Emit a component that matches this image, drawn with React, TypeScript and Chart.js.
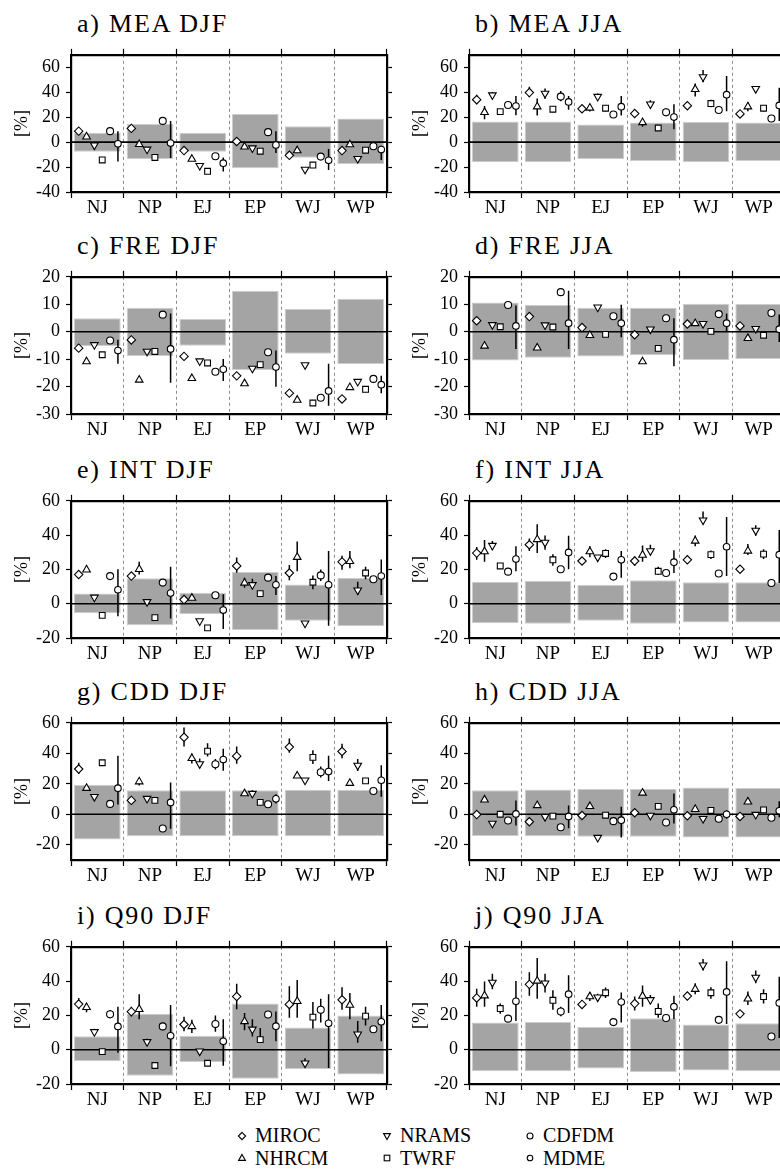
import React, { useEffect, useRef } from "react";
import { Chart, registerables } from "chart.js";

Chart.register(...registerables);

const FONT = "'Liberation Serif', 'DejaVu Serif', serif";

type Pair = [number, number] | null;

const regions = ["NJ", "NP", "EJ", "EP", "WJ", "WP"];
const models = ["MIROC", "NHRCM", "NRAMS", "TWRF", "CDFDM", "MDME"];
const N: Pair = null;

// ---- a) MEA DJF ----
const meaDjfTicks = [-40, -20, 0, 20, 40, 60];
const meaDjfBoxLow = [-7.8, -13.8, -7.8, -20.9, -12.6, -17.6];
const meaDjfBoxHigh = [7.5, 14.6, 7.5, 22.6, 12.8, 18.9];
const meaDjfValues = [
  [8.8, 11, -6.8, 0.5, -10.6, -6.8],
  [4.3, -1.8, -13.6, -3.8, -6.8, -2],
  [-2.5, -5.8, -18.9, -4.8, -21.9, -13.3],
  [-14.3, -12.3, -23.4, -7.3, -18.4, -6.5],
  [8.8, 17, -11.3, 8, -11.6, -3.3],
  [-1.3, -0.8, -16.9, -2.3, -14.6, -6],
];
const meaDjfErrors: Pair[][] = [
  [N, N, N, N, N, N],
  [N, N, N, N, N, N],
  [N, N, N, N, N, N],
  [N, N, N, N, N, N],
  [N, N, N, N, N, N],
  [[-15.6, 8.8], [-12.8, 17], [-23.6, -12.3], [-8.8, 8.8], [-22.4, -5.5], [-14.3, -3]],
];

// ---- b) MEA JJA ----
const meaJjaTicks = [-40, -20, 0, 20, 40, 60];
const meaJjaBoxLow = [-16.1, -16.1, -13.8, -15.1, -16.1, -15.1];
const meaJjaBoxHigh = [16.6, 16.6, 14.1, 15.8, 16.4, 15.8];
const meaJjaValues = [
  [34, 39.7, 26.7, 22.9, 29.2, 22.6],
  [23.9, 28.4, 27.4, 15.8, 42.3, 28.4],
  [37.7, 39, 36.5, 30.4, 52.3, 42.8],
  [24.4, 26.4, 27.2, 11.3, 30.9, 27.2],
  [29.7, 36.5, 22.1, 23.9, 25.7, 18.9],
  [28.9, 32.2, 28.4, 20.1, 38, 29.4],
];
const meaJjaErrors: Pair[][] = [
  [[30.4, 38], [36, 44.3], N, N, N, N],
  [[18.4, 29], [21.4, 35], [24.5, 30.2], [12.4, 18.6], [36.5, 47], [24.7, 32]],
  [[35.5, 39.9], [34.7, 43], [34, 39], [27.2, 33.5], [48, 57.9], [39.7, 45]],
  [N, [23.9, 28.9], [24.7, 29.7], N, [27.9, 34], [24.7, 29.7]],
  [[27.7, 32.2], [32.7, 41], N, [20.8, 27.2], N, N],
  [[21.6, 37], [26, 37], [21.4, 37], [10.3, 30.4], [24.7, 53], [17, 43.5]],
];

// ---- c) FRE DJF ----
const freDjfTicks = [-30, -20, -10, 0, 10, 20];
const freDjfBoxLow = [-5.2, -8.9, -5.1, -14, -8, -11.8];
const freDjfBoxHigh = [4.9, 8.7, 4.6, 14.9, 8.3, 12];
const freDjfValues = [
  [-6, -3, -9, -16.1, -22.4, -24.5],
  [-10.9, -17.6, -17, -18.9, -24.9, -20.3],
  [-4.8, -7.2, -10.7, -13.4, -12.1, -18.2],
  [-8.4, -7.2, -11.4, -12, -26, -21],
  [-3.2, 6.2, -14.6, -7.5, -24.1, -17.2],
  [-6.9, -6.3, -13.7, -12.9, -21.6, -19.3],
];
const freDjfErrors: Pair[][] = [
  [N, N, N, N, N, N],
  [N, N, N, N, N, N],
  [N, N, N, N, N, N],
  [N, N, N, N, N, N],
  [N, N, N, N, N, N],
  [[-11.7, -2.9], [-18.6, 6.6], [-18, -10], [-20.1, -6.9], [-27, -11.7], [-22.4, -16.1]],
];

// ---- d) FRE JJA ----
const freJjaTicks = [-30, -20, -10, 0, 10, 20];
const freJjaBoxLow = [-10.5, -9.5, -9, -8.6, -10.3, -10];
const freJjaBoxHigh = [10.6, 9.7, 8.7, 8.7, 10.2, 10.1];
const freJjaValues = [
  [4, 5.5, 1.5, -1.1, 2.8, 2.1],
  [-5.2, -5.9, -1.3, -10.9, 3, -2.4],
  [2.5, 2.4, 8.9, 0.9, 2.9, 1.1],
  [1.8, 1.7, -1, -6.1, 0.1, -1.3],
  [9.7, 14.4, 5.6, 4.9, 6.4, 6.8],
  [2.1, 3.1, 3.1, -2.9, 3.1, 0.9],
];
const freJjaErrors: Pair[][] = [
  [N, N, N, N, N, N],
  [N, N, N, N, N, N],
  [N, N, N, N, N, N],
  [N, N, N, N, N, N],
  [N, N, N, N, N, N],
  [[-6.3, 9.5], [-6.3, 14.9], [-2, 9.8], [-12.6, 4.9], [0, 6.6], [-3.8, 6.3]],
];

// ---- e) INT DJF ----
const intDjfTicks = [-20, 0, 20, 40, 60];
const intDjfBoxLow = [-5.5, -12.5, -6.2, -15.4, -9.9, -13.2];
const intDjfBoxHigh = [5.9, 14.8, 6.4, 18.5, 11.2, 15.2];
const intDjfValues = [
  [17, 16.1, 2.4, 22, 17.9, 24.4],
  [19.8, 20.1, 3.3, 12.1, 27.1, 24.7],
  [3.7, 1.1, -10.1, 11, -11.4, 7.9],
  [-6.8, -8.1, -14.1, 5.9, 12.5, 17.9],
  [16.1, 12.3, 4.9, 15.2, 16.5, 14.3],
  [8.1, 6.2, -3.7, 11, 11, 16.1],
];
const intDjfErrors: Pair[][] = [
  [N, N, N, [18, 27], [13.7, 22.5], [19.8, 28]],
  [N, [17, 24.4], N, [9.3, 15.2], [18.9, 36.3], [20.7, 30.8]],
  [N, N, N, [9.2, 14.6], N, [5.1, 12.8]],
  [N, N, N, N, [8.4, 16.5], [14.3, 21.6]],
  [N, N, N, N, [13.2, 20], N],
  [[-7.3, 20.1], [-8.6, 21.6], [-14.7, 5.5], [5.1, 16.1], [-12.8, 30.8], [5.1, 25.8]],
];

// ---- f) INT JJA ----
const intJjaTicks = [-20, 0, 20, 40, 60];
const intJjaBoxLow = [-11.4, -11.7, -9.9, -11.7, -11, -11];
const intJjaBoxHigh = [12.8, 13.4, 11, 13.7, 12.5, 12.5];
const intJjaValues = [
  [29.5, 34.4, 24.9, 24.9, 25.6, 20.1],
  [30.4, 37.5, 30.4, 28.4, 36.6, 30.8],
  [33.9, 35.7, 27.1, 30.8, 48.7, 42.7],
  [22, 25.6, 29.3, 18.9, 28.6, 28.9],
  [18.7, 20.1, 15.8, 17.9, 17.6, 12.1],
  [26, 29.9, 25.6, 24.2, 33.2, 28.6],
];
const intJjaErrors: Pair[][] = [
  [[25.6, 33], [30.8, 38], N, [22.2, 27.5], N, N],
  [[24.4, 37.2], [29.5, 46.3], [27.1, 33.5], [24.4, 34], [33.5, 39.7], [28.4, 34.8]],
  [[31.3, 36.6], [31.5, 39.8], N, [28.6, 34.4], [46.3, 53.7], [39.6, 45.7]],
  [N, [22.2, 28.8], [26.7, 31.7], [16.7, 21.6], [26, 31], [26, 31.7]],
  [N, N, N, N, N, N],
  [[18.9, 33.5], [20.1, 39.6], [15.2, 30.8], [17.9, 31.1], [16.1, 50.5], [12.1, 43]],
];

// ---- g) CDD DJF ----
const cddDjfTicks = [-20, 0, 20, 40, 60];
const cddDjfBoxLow = [-16.5, -14.4, -14.4, -14.4, -14.4, -14.4];
const cddDjfBoxHigh = [19.4, 15.7, 15.7, 15.7, 16.1, 16.1];
const cddDjfValues = [
  [29.7, 9.1, 50.5, 38.1, 44.1, 41.2],
  [17.1, 21.4, 36.7, 13.6, 25.2, 20.4],
  [11.5, 10.3, 33, 13.6, 22.3, 32],
  [33.8, 9.1, 41.4, 7.8, 37.3, 21.9],
  [6.8, -9.3, 32.8, 6.6, 27.6, 15.3],
  [17.1, 7.8, 35.9, 10.1, 28, 22.3],
];
const cddDjfErrors: Pair[][] = [
  [[26.4, 33.8], N, [44.5, 56.9], [33.2, 44.5], [40.4, 49.7], [36.7, 46.2]],
  [N, [18.8, 22.7], [33.3, 39.9], N, N, N],
  [N, N, [30.7, 36.5], [11.5, 15.7], N, [28.3, 36.3]],
  [N, N, [37.9, 46.6], N, [33, 42], N],
  [N, N, [29.3, 36.3], N, [24.1, 31.3], N],
  [[6.4, 38.4], [-9.5, 20.8], [28.5, 42.9], [7, 13.2], [21.9, 38.4], [11.5, 32.2]],
];

// ---- h) CDD JJA ----
const cddJjaTicks = [-20, 0, 20, 40, 60];
const cddJjaBoxLow = [-14.2, -14.4, -14.8, -14.8, -15.3, -15.3];
const cddJjaBoxHigh = [15.7, 16.3, 16.5, 16.5, 17.5, 17.3];
const cddJjaValues = [
  [-0.2, -4.9, -0.8, 1, -1, -1.4],
  [9.5, 5.8, 5.2, 14, 3.3, 8.2],
  [-6, -1.6, -15.3, -0.8, -2.9, -0.2],
  [0, -1.2, -0.6, 5.2, 2.5, 2.9],
  [-4.1, -8.5, -4.5, -5.4, -2.9, -2.3],
  [0.2, -1.4, -3.9, 2.9, 0, 2.3],
];
const cddJjaErrors: Pair[][] = [
  [N, N, N, N, N, N],
  [N, N, N, N, N, N],
  [N, N, N, N, N, N],
  [N, N, N, N, N, N],
  [N, N, N, N, N, N],
  [[-7.4, 9.1], [-9.1, 5.8], [-15.3, 4.9], [-6, 13.6], [-2.9, 2.7], [-1.9, 8.5]],
];

// ---- i) Q90 DJF ----
const q90DjfTicks = [-20, 0, 20, 40, 60];
const q90DjfBoxLow = [-6.8, -15.2, -7.1, -17, -11.2, -14.5];
const q90DjfBoxHigh = [7.9, 20.9, 8.2, 26.9, 13, 20];
const q90DjfValues = [
  [26.6, 22.2, 14.7, 31, 26.4, 29.1],
  [24.7, 23.6, 13.6, 16.5, 28.2, 26],
  [10.4, 4.6, -0.9, 11.9, -7.9, 9],
  [-1.1, -9.2, -7.9, 5.9, 19, 19.6],
  [20.7, 13.6, 15, 20.5, 23.3, 11.9],
  [13.6, 8.1, 4.9, 13.7, 15.4, 16.3],
];
const q90DjfErrors: Pair[][] = [
  [[23.6, 30.2], [19.3, 25.1], [10.8, 19.2], [23.6, 38.5], [18.7, 37], [23.3, 36.4]],
  [[21.8, 26.9], [17.8, 32.4], [9.8, 17.4], [11.4, 21.4], [18.7, 40.7], [17.8, 33]],
  [[8.6, 12.2], [2.8, 6.4], N, [7.7, 17.8], [-9.7, -5], [4, 16.8]],
  [N, N, N, [4, 12.6], [12.3, 27.8], [14.1, 25]],
  [[18.3, 23.1], [11.4, 15.9], [10.4, 20], N, [15.9, 29.7], N],
  [[-1.8, 25.1], [-9.7, 26], [-9.3, 17.8], [4.9, 22.3], [-10.6, 32.4], [4.9, 26]],
];

// ---- j) Q90 JJA ----
const q90JjaTicks = [-20, 0, 20, 40, 60];
const q90JjaBoxLow = [-12.6, -12.6, -11, -13, -12.1, -12.5];
const q90JjaBoxHigh = [15.9, 16.1, 13.2, 18.3, 14.7, 15.4];
const q90JjaValues = [
  [30.2, 38.1, 26.4, 26.9, 31.3, 20.9],
  [31.5, 40.1, 31, 31.3, 35.3, 29.7],
  [39.2, 38.8, 30.6, 29.1, 49.3, 42.1],
  [24, 28.8, 33.2, 22.3, 33.2, 31],
  [18.1, 22.3, 16.1, 18.5, 17.4, 7.7],
  [28.2, 32.4, 27.8, 25.1, 33.7, 27.3],
];
const q90JjaErrors: Pair[][] = [
  [[25.1, 35.5], [31.5, 45.2], [24.1, 28.9], [22.9, 31], [28.9, 33.7], N],
  [[25.1, 39.7], [29.7, 53.5], [28.4, 33.5], [25.1, 37.5], [32.4, 38.8], [26, 33.9]],
  [[35.2, 44.3], [33.3, 44.3], [28.6, 32.6], [26.8, 31.9], [46.2, 52.9], [38.8, 46.2]],
  [[21, 26.9], [23.3, 34.6], [30.2, 36.2], [18.7, 26.9], [29.7, 36.4], [26.9, 35.2]],
  [N, [19.5, 25], N, [16.5, 20.6], N, N],
  [[16.8, 40.1], [21.4, 43.4], [15.9, 33.3], [17.8, 31.5], [15, 51.6], [6.8, 42.5]],
];

// ---- layout / style (not data) ----
const markerOffsets = [0.146, 0.295, 0.444, 0.593, 0.742, 0.891];
const markerStyles: { style: any; radius: number; rotation: number }[] = [
  { style: "rectRot", radius: 4.2, rotation: 0 },
  { style: "triangle", radius: 4.4, rotation: 0 },
  { style: "triangle", radius: 4.4, rotation: 180 },
  { style: "rect", radius: 4.1, rotation: 0 },
  { style: "circle", radius: 3.5, rotation: 0 },
  { style: "circle", radius: 3.3, rotation: 0 },
];

interface PanelDef {
  title: string;
  yMin: number;
  yMax: number;
  ticks: number[];
  boxLow: number[];
  boxHigh: number[];
  values: number[][];
  errors: Pair[][];
  col: number;
  row: number;
}

const panels: PanelDef[] = [
  { title: "a) MEA DJF", yMin: -40, yMax: 70, ticks: meaDjfTicks, boxLow: meaDjfBoxLow, boxHigh: meaDjfBoxHigh, values: meaDjfValues, errors: meaDjfErrors, col: 0, row: 0 },
  { title: "b) MEA JJA", yMin: -40, yMax: 70, ticks: meaJjaTicks, boxLow: meaJjaBoxLow, boxHigh: meaJjaBoxHigh, values: meaJjaValues, errors: meaJjaErrors, col: 1, row: 0 },
  { title: "c) FRE DJF", yMin: -30, yMax: 20, ticks: freDjfTicks, boxLow: freDjfBoxLow, boxHigh: freDjfBoxHigh, values: freDjfValues, errors: freDjfErrors, col: 0, row: 1 },
  { title: "d) FRE JJA", yMin: -30, yMax: 20, ticks: freJjaTicks, boxLow: freJjaBoxLow, boxHigh: freJjaBoxHigh, values: freJjaValues, errors: freJjaErrors, col: 1, row: 1 },
  { title: "e) INT DJF", yMin: -20, yMax: 60, ticks: intDjfTicks, boxLow: intDjfBoxLow, boxHigh: intDjfBoxHigh, values: intDjfValues, errors: intDjfErrors, col: 0, row: 2 },
  { title: "f) INT JJA", yMin: -20, yMax: 60, ticks: intJjaTicks, boxLow: intJjaBoxLow, boxHigh: intJjaBoxHigh, values: intJjaValues, errors: intJjaErrors, col: 1, row: 2 },
  { title: "g) CDD DJF", yMin: -30, yMax: 60, ticks: cddDjfTicks, boxLow: cddDjfBoxLow, boxHigh: cddDjfBoxHigh, values: cddDjfValues, errors: cddDjfErrors, col: 0, row: 3 },
  { title: "h) CDD JJA", yMin: -30, yMax: 60, ticks: cddJjaTicks, boxLow: cddJjaBoxLow, boxHigh: cddJjaBoxHigh, values: cddJjaValues, errors: cddJjaErrors, col: 1, row: 3 },
  { title: "i) Q90 DJF", yMin: -20, yMax: 60, ticks: q90DjfTicks, boxLow: q90DjfBoxLow, boxHigh: q90DjfBoxHigh, values: q90DjfValues, errors: q90DjfErrors, col: 0, row: 4 },
  { title: "j) Q90 JJA", yMin: -20, yMax: 60, ticks: q90JjaTicks, boxLow: q90JjaBoxLow, boxHigh: q90JjaBoxHigh, values: q90JjaValues, errors: q90JjaErrors, col: 1, row: 4 },
];

const PLOT_TOPS = [46, 268, 492, 714, 938];
const COL_LEFTS = [0, 398];
const AXIS_W = 71;
const PLOT_W = 316;
const PLOT_H = 146;
const TOP_AX = 6;
const PAD_TOP = 2;
const BOTTOM_AX = 32;
const RIGHT_AX = 8;
const PAD_RIGHT = 2;
const CANVAS_W = AXIS_W + PLOT_W + RIGHT_AX + PAD_RIGHT;
const CANVAS_H = PAD_TOP + TOP_AX + PLOT_H + BOTTOM_AX;

function Panel({ def }: { def: PanelDef }) {
  const ref = useRef<HTMLCanvasElement | null>(null);
  useEffect(() => {
    if (!ref.current) return;
    const datasets: any[] = [];
    datasets.push({
      type: "bar",
      data: regions.map((_, i) => [def.boxLow[i], def.boxHigh[i]]),
      backgroundColor: "#a4a4a4",
      borderColor: "#cecece",
      borderWidth: 1,
      borderSkipped: false,
      grouped: false,
      barPercentage: 0.886,
      categoryPercentage: 1,
      xAxisID: "x",
      yAxisID: "y",
      order: 10,
    });
    datasets.push({
      type: "line",
      data: [{ x: 0, y: 0 }, { x: regions.length, y: 0 }],
      borderColor: "#000",
      borderWidth: 1.6,
      pointRadius: 0,
      xAxisID: "xs",
      yAxisID: "y",
      order: 9,
    });
    const errPts: any[] = [];
    def.errors.forEach((row, m) =>
      row.forEach((e, r) => {
        if (e) {
          const x = r + markerOffsets[m];
          errPts.push({ x, y: e[0] }, { x, y: e[1] }, { x, y: null });
        }
      })
    );
    datasets.push({
      type: "line",
      data: errPts,
      borderColor: "#000",
      borderWidth: 1.5,
      pointRadius: 0,
      spanGaps: false,
      xAxisID: "xs",
      yAxisID: "y",
      order: 8,
    });
    models.forEach((name, m) => {
      datasets.push({
        type: "scatter",
        label: name,
        data: def.values[m].map((v, r) => ({ x: r + markerOffsets[m], y: v })),
        pointStyle: markerStyles[m].style,
        pointRotation: markerStyles[m].rotation,
        pointRadius: markerStyles[m].radius,
        pointBackgroundColor: "#fff",
        pointBorderColor: "#000",
        pointBorderWidth: 1.1,
        showLine: false,
        xAxisID: "xs",
        yAxisID: "y",
        order: m,
      });
    });

    const setTicks = (s: any) => {
      s.ticks = def.ticks.map((v) => ({ value: v }));
    };

    const chart = new Chart(ref.current, {
      type: "bar",
      data: { labels: regions, datasets },
      options: {
        animation: false,
        responsive: false,
        maintainAspectRatio: false,
        events: [],
        layout: { padding: { top: PAD_TOP, right: PAD_RIGHT, left: 0, bottom: 0 } },
        plugins: {
          legend: { display: false },
          tooltip: { enabled: false },
          title: { display: false },
        },
        scales: {
          x: {
            type: "category",
            position: "bottom",
            offset: true,
            grid: {
              offset: true,
              color: "#8c8c8c",
              lineWidth: 1,
              tickColor: "#000",
              tickWidth: 1.2,
              tickLength: 6,
              drawOnChartArea: true,
            },
            border: { display: true, color: "#000", width: 2.2, dash: [3, 3] },
            ticks: {
              color: "#000",
              font: { family: FONT, size: 19, lineHeight: 1.1 },
              padding: 0,
              autoSkip: false,
              maxRotation: 0,
            },
            afterFit: (s: any) => {
              s.height = BOTTOM_AX;
            },
          },
          x2: {
            type: "category",
            position: "top",
            offset: true,
            grid: {
              offset: true,
              drawOnChartArea: false,
              color: "#000",
              tickColor: "#000",
              tickWidth: 1.2,
              tickLength: 6,
            },
            border: { display: true, color: "#000", width: 2.2 },
            ticks: { display: false },
            afterFit: (s: any) => {
              s.height = TOP_AX;
            },
          },
          xs: {
            type: "linear",
            display: false,
            offset: false,
            grid: { offset: false },
            min: 0,
            max: regions.length,
          },
          y: {
            type: "linear",
            position: "left",
            min: def.yMin,
            max: def.yMax,
            afterBuildTicks: setTicks,
            grid: { drawOnChartArea: false, color: "#000", tickColor: "#000", tickWidth: 1.2, tickLength: 5 },
            border: { display: true, color: "#000", width: 2.2 },
            ticks: { color: "#000", font: { family: FONT, size: 18 }, padding: 6 },
            title: {
              display: true,
              text: "[%]",
              color: "#000",
              font: { family: FONT, size: 18 },
              padding: { top: 11, bottom: 0 },
            },
            afterFit: (s: any) => {
              s.width = AXIS_W;
            },
          },
          y2: {
            type: "linear",
            position: "right",
            min: def.yMin,
            max: def.yMax,
            afterBuildTicks: setTicks,
            grid: { drawOnChartArea: false, color: "#000", tickColor: "#000", tickWidth: 1.2, tickLength: 5 },
            border: { display: true, color: "#000", width: 2.2 },
            ticks: { display: false },
            afterFit: (s: any) => {
              s.width = RIGHT_AX;
            },
          },
        } as any,
      },
    } as any);
    return () => chart.destroy();
  }, [def]);

  const plotTop = PLOT_TOPS[def.row];
  const left = COL_LEFTS[def.col];
  return (
    <>
      <div
        style={{
          position: "absolute",
          left: left + AXIS_W + 6,
          top: plotTop - 13 - 21.8,
          fontFamily: FONT,
          fontSize: 26,
          lineHeight: "26px",
          letterSpacing: "1.8px",
          whiteSpace: "nowrap",
          color: "#000",
        }}
      >
        {def.title}
      </div>
      <canvas
        ref={ref}
        width={CANVAS_W}
        height={CANVAS_H}
        style={{
          position: "absolute",
          left,
          top: plotTop - PAD_TOP - TOP_AX,
          width: CANVAS_W,
          height: CANVAS_H,
        }}
      />
    </>
  );
}

function LegendMark({ idx }: { idx: number }) {
  const s = 12;
  const c = s / 2;
  let shape: React.ReactNode = null;
  const common = { fill: "#fff", stroke: "#000", strokeWidth: 1.1 };
  if (idx === 0) shape = <polygon points={`${c},${c - 3.6} ${c + 3.6},${c} ${c},${c + 3.6} ${c - 3.6},${c}`} {...common} />;
  if (idx === 1) shape = <polygon points={`${c},${c - 3.6} ${c + 3.4},${c + 2.4} ${c - 3.4},${c + 2.4}`} {...common} />;
  if (idx === 2) shape = <polygon points={`${c},${c + 3.6} ${c + 3.4},${c - 2.4} ${c - 3.4},${c - 2.4}`} {...common} />;
  if (idx === 3) shape = <rect x={c - 2.8} y={c - 2.8} width={5.6} height={5.6} {...common} />;
  if (idx === 4) shape = <circle cx={c} cy={c} r={3} {...common} />;
  if (idx === 5) shape = <circle cx={c} cy={c} r={2.8} {...common} />;
  return (
    <svg width={s} height={s} style={{ display: "block" }}>
      {shape}
    </svg>
  );
}

const legendCols = [242, 387, 530];
const legendRows = [1135.5, 1158];
const legendOrder = [0, 2, 4, 1, 3, 5];

export default function App() {
  return (
    <div
      style={{
        position: "absolute",
        left: 0,
        top: 0,
        width: 780,
        height: 1170,
        overflow: "hidden",
        background: "#fff",
      }}
    >
      {panels.map((p) => (
        <Panel key={p.title} def={p} />
      ))}
      {legendOrder.map((m, k) => {
        const col = k % 3;
        const row = Math.floor(k / 3);
        const cx = legendCols[col];
        const cy = legendRows[row];
        return (
          <React.Fragment key={models[m]}>
            <div style={{ position: "absolute", left: cx - 6, top: cy - 6 }}>
              <LegendMark idx={m} />
            </div>
            <div
              style={{
                position: "absolute",
                left: cx + 13,
                top: cy - 10.1,
                fontFamily: FONT,
                fontSize: 20,
                lineHeight: "20px",
                whiteSpace: "nowrap",
                color: "#000",
              }}
            >
              {models[m]}
            </div>
          </React.Fragment>
        );
      })}
    </div>
  );
}
